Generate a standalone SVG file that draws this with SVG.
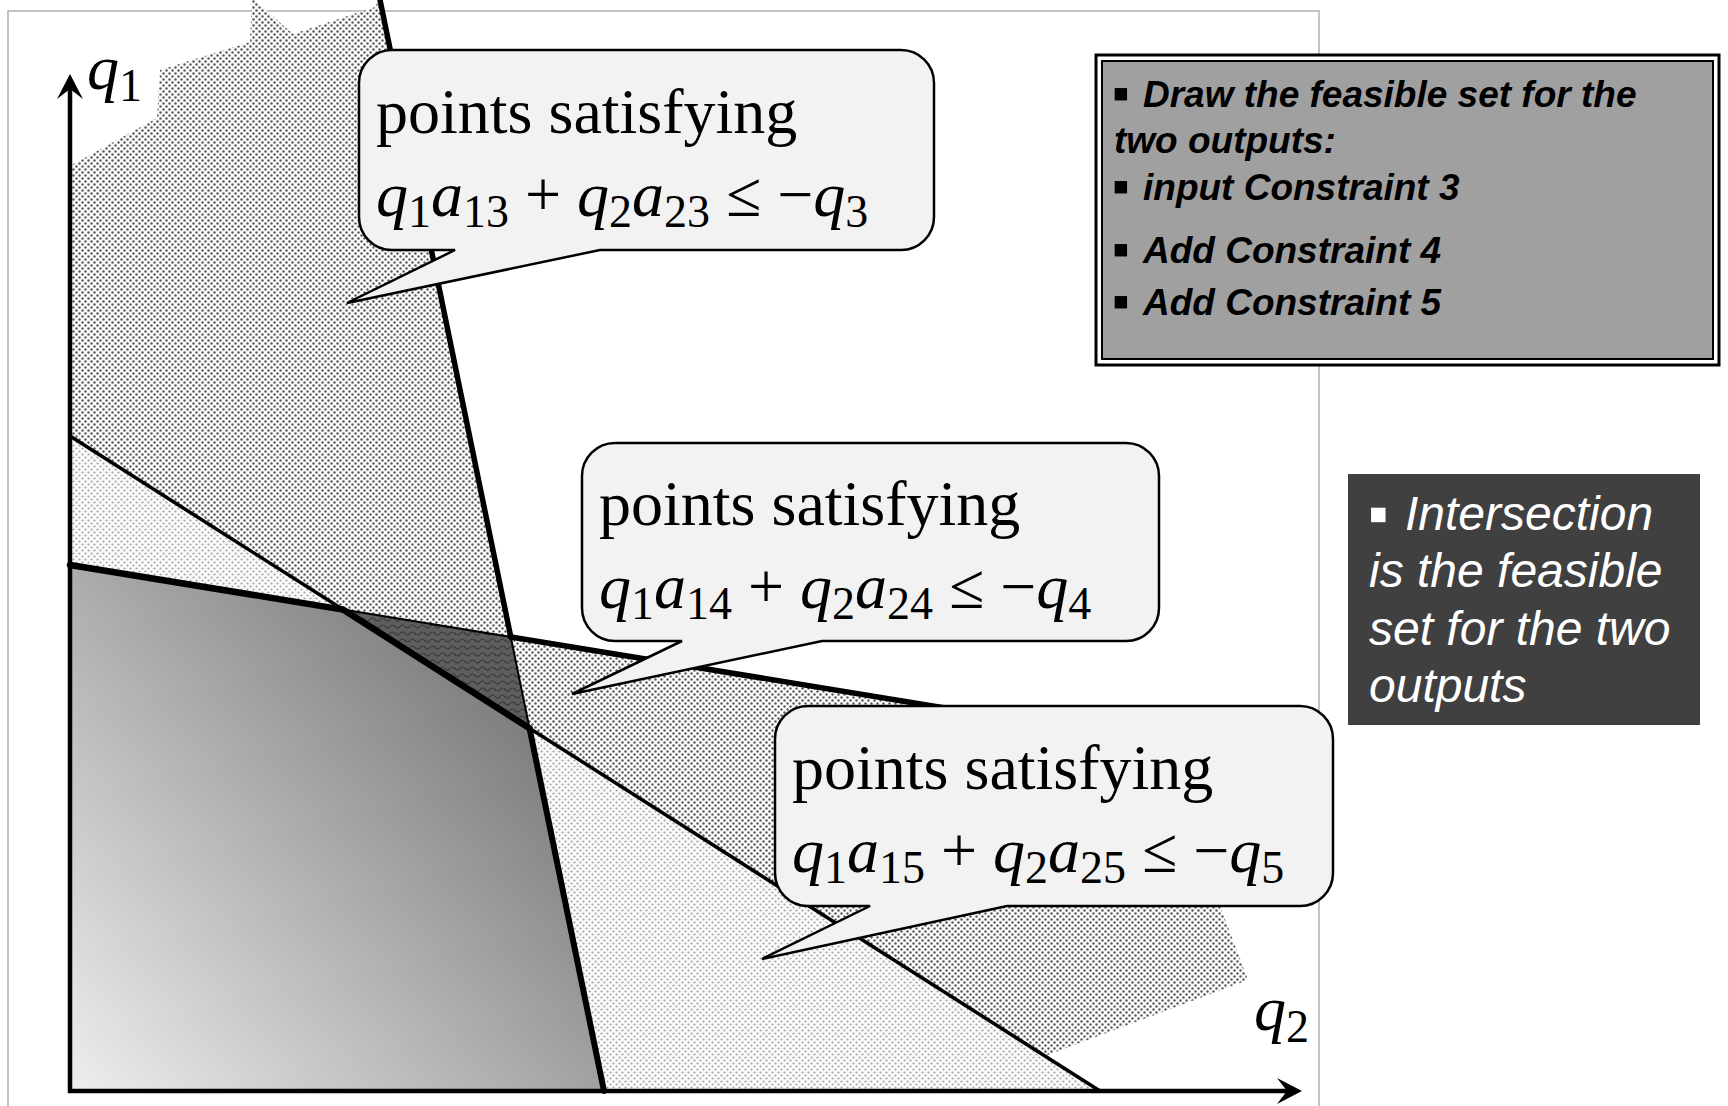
<svg xmlns="http://www.w3.org/2000/svg" width="1728" height="1106" viewBox="0 0 1728 1106">
<style>
  .eq { font-family: "Liberation Serif", "Times New Roman", serif; font-size: 64px; fill: #000; }
  .i { font-style: italic; }
  .sub { font-size: 46px; }
  .callout { fill: #f2f2f2; stroke: #000; stroke-width: 2.5; stroke-linejoin: miter; }
  .bx { font-family: "Liberation Sans", Arial, sans-serif; font-size: 37px; font-weight: bold; font-style: italic; fill: #000; }
  .dk { font-family: "Liberation Sans", Arial, sans-serif; font-size: 48px; font-style: italic; fill: #fff; }
  .bul { font-style: normal; }
  .ln { stroke: #000; fill: none; stroke-linecap: round; }
</style>
<defs>
  <pattern id="dotMed" width="6" height="6" patternUnits="userSpaceOnUse">
    <rect width="6" height="6" fill="#fbfbfb"/>
    <circle cx="1.5" cy="1.5" r="1.2" fill="#575757"/>
    <circle cx="4.5" cy="4.5" r="1.2" fill="#575757"/>
  </pattern>
  <pattern id="dotLight" width="6" height="6" patternUnits="userSpaceOnUse">
    <rect width="6" height="6" fill="#fbfbfb"/>
    <circle cx="1.5" cy="1.5" r="1.1" fill="#a2a2a2"/>
    <circle cx="4.5" cy="4.5" r="1.1" fill="#a2a2a2"/>
  </pattern>
  <pattern id="wave" width="10" height="7" patternUnits="userSpaceOnUse">
    <rect width="10" height="7" fill="#5e5e5e"/>
    <path d="M0,3.5 Q2.5,0.5 5,3.5 T10,3.5" fill="none" stroke="#3a3a3a" stroke-width="1.2"/>
  </pattern>
  <linearGradient id="feas" gradientUnits="userSpaceOnUse" x1="70" y1="1091" x2="525" y2="690">
    <stop offset="0" stop-color="#eeeeee"/>
    <stop offset="1" stop-color="#7a7a7a"/>
  </linearGradient>
  <marker id="arr" viewBox="0 0 25 26" refX="10" refY="13" markerWidth="25" markerHeight="26" orient="auto" markerUnits="userSpaceOnUse">
    <path d="M0,0 L25,13 L0,26 L10,13 Z" fill="#000"/>
  </marker>
</defs>

<!-- frame -->
<rect x="8" y="11" width="1311" height="1105" fill="none" stroke="#b0b0b0" stroke-width="1.5"/>

<!-- regions -->
<g id="regions">
  <polygon id="region3" fill="url(#dotMed)" points="70,166 157,118 160,70 250,42 252,-2 293,34 375,7 380,-2 604,1091 70,1091"/>
  <polygon id="region4" fill="url(#dotMed)" points="510.8,637 1000,717 1220,906 1248,980 1045,1056 529.5,728.2"/>
  <polygon id="light-right" fill="url(#dotLight)" points="529.5,728.2 1100,1091 604,1091"/>
  <polygon id="light-left" fill="url(#dotLight)" points="70,436 343,609.6 70,565"/>
  <polygon id="overlap-dark" fill="url(#wave)" points="343,609.6 510.8,637 529.5,728.2"/>
  <polygon id="feasible" fill="url(#feas)" points="70,565 343,609.6 529.5,728.2 604,1091 70,1091"/>
</g>

<!-- constraint lines and axes -->
<g id="connectors">
  <line class="ln" x1="379" y1="-5" x2="510.8" y2="637" stroke-width="5.5"/>
  <line class="ln" x1="510.8" y1="637" x2="529.5" y2="728.2" stroke-width="2"/>
  <line class="ln" x1="529.5" y1="728.2" x2="604" y2="1091" stroke-width="6"/>
  <line class="ln" x1="70" y1="565" x2="343" y2="609.6" stroke-width="6.5"/>
  <line class="ln" x1="343" y1="609.6" x2="510.8" y2="637" stroke-width="2"/>
  <line class="ln" x1="510.8" y1="637" x2="1000" y2="717" stroke-width="5.5"/>
  <line class="ln" x1="70" y1="436" x2="343" y2="609.6" stroke-width="3.5"/>
  <line class="ln" x1="343" y1="609.6" x2="529.5" y2="728.2" stroke-width="6.5"/>
  <line class="ln" x1="529.5" y1="728.2" x2="1100" y2="1091" stroke-width="3.5"/>
  <line id="axis-q1" x1="70" y1="1093" x2="70" y2="89" stroke="#000" stroke-width="4.5" marker-end="url(#arr)"/>
  <line id="axis-q2" x1="68" y1="1091" x2="1287" y2="1091" stroke="#000" stroke-width="4.5" marker-end="url(#arr)"/>
</g>

<!-- axis labels -->
<g id="label-q1">
  <text class="eq" x="87" y="89"><tspan class="i">q</tspan><tspan class="sub" dy="12">1</tspan></text>
</g>
<g id="label-q2">
  <text class="eq" x="1254" y="1030"><tspan class="i">q</tspan><tspan class="sub" dy="12">2</tspan></text>
</g>

<!-- callouts -->
<g id="callout3">
  <path class="callout" d="M392,50 H901 A33,33 0 0 1 934,83 V217 A33,33 0 0 1 901,250 H600 L347,303 L455,250 H392 A33,33 0 0 1 359,217 V83 A33,33 0 0 1 392,50 Z"/>
  <text class="eq" x="376" y="133">points satisfying</text>
  <text class="eq" x="376" y="216"><tspan class="i">q</tspan><tspan class="sub" dy="11">1</tspan><tspan class="i" dy="-11">a</tspan><tspan class="sub" dy="11">13</tspan><tspan dy="-11"> + </tspan><tspan class="i">q</tspan><tspan class="sub" dy="11">2</tspan><tspan class="i" dy="-11">a</tspan><tspan class="sub" dy="11">23</tspan><tspan dy="-11"> ≤ −</tspan><tspan class="i">q</tspan><tspan class="sub" dy="11">3</tspan></text>
</g>
<g id="callout4">
  <path class="callout" d="M615,443 H1126 A33,33 0 0 1 1159,476 V608 A33,33 0 0 1 1126,641 H822 L572,694 L682,641 H615 A33,33 0 0 1 582,608 V476 A33,33 0 0 1 615,443 Z"/>
  <text class="eq" x="599" y="525">points satisfying</text>
  <text class="eq" x="599" y="608"><tspan class="i">q</tspan><tspan class="sub" dy="11">1</tspan><tspan class="i" dy="-11">a</tspan><tspan class="sub" dy="11">14</tspan><tspan dy="-11"> + </tspan><tspan class="i">q</tspan><tspan class="sub" dy="11">2</tspan><tspan class="i" dy="-11">a</tspan><tspan class="sub" dy="11">24</tspan><tspan dy="-11"> ≤ −</tspan><tspan class="i">q</tspan><tspan class="sub" dy="11">4</tspan></text>
</g>
<g id="callout5">
  <path class="callout" d="M808,706 H1300 A33,33 0 0 1 1333,739 V873 A33,33 0 0 1 1300,906 H1007 L762,959 L870,906 H808 A33,33 0 0 1 775,873 V739 A33,33 0 0 1 808,706 Z"/>
  <text class="eq" x="792" y="789">points satisfying</text>
  <text class="eq" x="792" y="872"><tspan class="i">q</tspan><tspan class="sub" dy="11">1</tspan><tspan class="i" dy="-11">a</tspan><tspan class="sub" dy="11">15</tspan><tspan dy="-11"> + </tspan><tspan class="i">q</tspan><tspan class="sub" dy="11">2</tspan><tspan class="i" dy="-11">a</tspan><tspan class="sub" dy="11">25</tspan><tspan dy="-11"> ≤ −</tspan><tspan class="i">q</tspan><tspan class="sub" dy="11">5</tspan></text>
</g>

<!-- instruction box -->
<g id="instructions">
  <rect x="1096" y="55" width="623" height="310" fill="#ffffff" stroke="#000" stroke-width="3"/>
  <rect x="1102" y="61" width="611" height="298" fill="#a0a0a0" stroke="#000" stroke-width="2"/>
  <text class="bx" y="107"><tspan class="bul" x="1112" font-size="50" dy="3">▪</tspan><tspan x="1143" dy="-3">Draw the feasible set for the</tspan></text>
  <text class="bx" x="1114" y="153">two outputs:</text>
  <text class="bx" y="200"><tspan class="bul" x="1112" font-size="50" dy="3">▪</tspan><tspan x="1143" dy="-3">input Constraint 3</tspan></text>
  <text class="bx" y="263"><tspan class="bul" x="1112" font-size="50" dy="3">▪</tspan><tspan x="1143" dy="-3">Add Constraint 4</tspan></text>
  <text class="bx" y="315"><tspan class="bul" x="1112" font-size="50" dy="3">▪</tspan><tspan x="1143" dy="-3">Add Constraint 5</tspan></text>
</g>

<!-- note box -->
<g id="note">
  <rect x="1348" y="474" width="352" height="251" fill="#404040"/>
  <text class="dk" y="530"><tspan class="bul" x="1368" font-size="58" dy="3">▪</tspan><tspan x="1405" dy="-3">Intersection</tspan></text>
  <text class="dk" x="1369" y="587">is the feasible</text>
  <text class="dk" x="1369" y="645">set for the two</text>
  <text class="dk" x="1369" y="702">outputs</text>
</g>
</svg>
